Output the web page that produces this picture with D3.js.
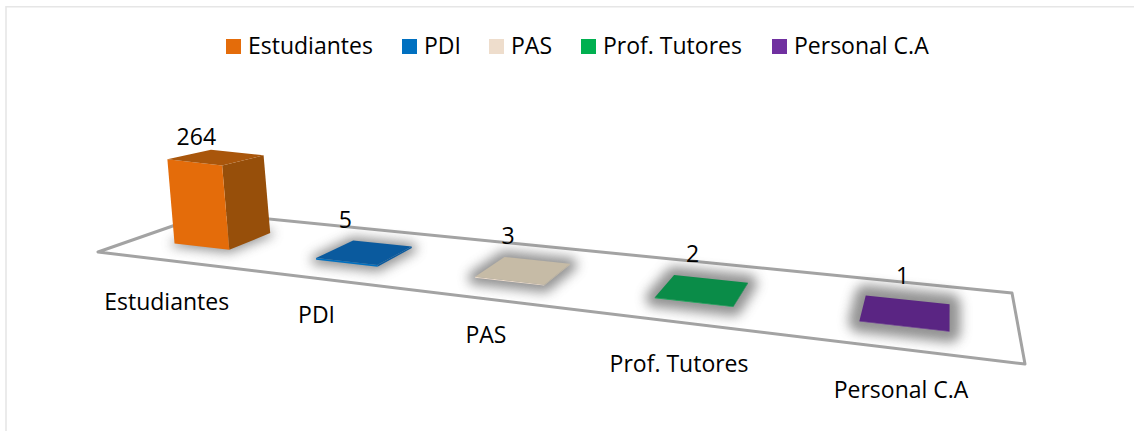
<!DOCTYPE html>
<html>
<head>
<meta charset="utf-8">
<script src="https://cdn.jsdelivr.net/npm/d3@7/dist/d3.min.js"></script>
<style>
  html, body { margin: 0; padding: 0; background: #fff; }
  text { font-family: "Open Sans", Lato, sans-serif; fill: #000; }
</style>
</head>
<body>
<svg id="chart" width="1134" height="431"></svg>
<script>
const categories = ["Estudiantes", "PDI", "PAS", "Prof. Tutores", "Personal C.A"];
const values = [264, 5, 3, 2, 1];
const legendColors = ["#e46c0a", "#0070c0", "#eeddcc", "#00b050", "#7030a0"];
const topColors = ["#a9560b", "#0a5a9e", "#c6bba6", "#0a8c48", "#5a2583"];
const sideColors = ["#974f0a", "#0a5a9e", "#c6bba6", "#0a8c48", "#5a2583"];

// Layout nudges for the labels, in pixels
const valueDx = [-41, -37, -29, -18.5, -5];
const valueDy = [-8, -15, -16.5, -16.5, -16];
const categoryDy = [50, 45, 44, 50, 49];
const legendX = [226, 402, 489, 581, 772];
const shadowSpread = [6, 10, 14, 18, 22];

const svg = d3.select("#chart");

// Frame: only the top and left rules are visible
svg.append("path").attr("d", "M6,431V6.8H1134").attr("fill", "none").attr("stroke", "#e6e6e6").attr("stroke-width", 1.6);

const defs = svg.append("defs");
defs.append("filter").attr("id", "soft").attr("x", "-80%").attr("y", "-150%").attr("width", "260%").attr("height", "400%")
  .append("feGaussianBlur").attr("stdDeviation", 6);

// Floor plane corners on screen: near-left, near-right, far-right, far-left
const floor = [[98, 252], [1025, 364], [1012, 293], [210, 213]];

// Perspective map from the unit square to the floor quadrilateral
function squareToQuad(q) {
  const [[x0, y0], [x1, y1], [x2, y2], [x3, y3]] = q;
  const sx = x0 - x1 + x2 - x3, sy = y0 - y1 + y2 - y3;
  const dx1 = x1 - x2, dx2 = x3 - x2, dy1 = y1 - y2, dy2 = y3 - y2;
  const den = dx1 * dy2 - dx2 * dy1;
  const g = (sx * dy2 - dx2 * sy) / den, h = (dx1 * sy - sx * dy1) / den;
  const a = x1 - x0 + g * x1, b = x3 - x0 + h * x3, c = x0;
  const d = y1 - y0 + g * y1, e = y3 - y0 + h * y3, f = y0;
  return (u, v) => {
    const w = g * u + h * v + 1;
    return [(a * u + b * v + c) / w, (d * u + e * v + f) / w];
  };
}
const project = squareToQuad(floor);

// Scales: categories run along the floor, values rise from it
const xBand = d3.scaleBand().domain(categories).range([0, 1]).paddingInner(0.6).paddingOuter(0.3);
const depth = d3.scaleLinear().domain([0, 1]).range([0.3, 0.7]);
const rise = d3.scaleLinear().domain([0, 264]).range([0, 81]);
const foreshorten = d3.scaleLinear().domain([0, 1]).range([1.04, 0.96]);

// Base of a column on the floor, near edge first
function footprint(cat) {
  const u0 = xBand(cat), u1 = u0 + xBand.bandwidth();
  return [project(u0, depth(0)), project(u1, depth(0)), project(u1, depth(1)), project(u0, depth(1))];
}
// Raise a base corner to the column top; corners 2 and 3 are on the far side
const lift = (p, val, k) => {
  const dy = rise(val) * foreshorten(k >= 2 ? 1 : 0);
  return [p[0] - 0.085 * dy, p[1] - dy];
};
const poly = pts => "M" + pts.map(p => p.join(",")).join("L") + "Z";

const data = categories.map((c, i) => ({ c, v: values[i], i, base: footprint(c) }));

// Floor
svg.append("path").attr("d", poly(floor)).attr("fill", "#fff").attr("stroke", "#a3a3a3")
  .attr("stroke-width", 3).attr("stroke-linejoin", "round");

// Soft shadows under each column
svg.append("g").selectAll("path").data(data).join("path")
  .attr("d", d => poly(d.base))
  .attr("fill", "#6e6e6e").attr("stroke", "#6e6e6e").attr("stroke-width", d => shadowSpread[d.i])
  .attr("stroke-linejoin", "round").attr("opacity", 0.75).attr("filter", "url(#soft)");

// Column faces
const col = svg.append("g").selectAll("g").data(data).join("g");
col.append("path").attr("d", d => {
    const [, b, c] = d.base;
    return poly([b, c, lift(c, d.v, 2), lift(b, d.v, 1)]);
  }).attr("fill", d => sideColors[d.i]);
col.append("path").attr("d", d => {
    const [a, b] = d.base;
    return poly([a, b, lift(b, d.v, 1), lift(a, d.v, 0)]);
  }).attr("fill", d => legendColors[d.i]);
col.append("path").attr("d", d => poly(d.base.map((p, k) => lift(p, d.v, k))))
  .attr("fill", d => topColors[d.i]);

// Value labels sit near the middle of each column's far edge
const topCentre = d => {
  const c = lift(d.base[2], d.v, 2), e = lift(d.base[3], d.v, 3);
  return [(c[0] + e[0]) / 2, (c[1] + e[1]) / 2];
};
svg.append("g").selectAll("text").data(data).join("text")
  .attr("text-anchor", "middle").attr("font-size", 23)
  .attr("x", d => topCentre(d)[0] + valueDx[d.i])
  .attr("y", d => topCentre(d)[1] + valueDy[d.i])
  .text(d => d.v);

// Category labels below the near edge of the floor
svg.append("g").selectAll("text").data(data).join("text")
  .attr("text-anchor", "middle").attr("font-size", 23)
  .attr("x", d => project(xBand(d.c) + xBand.bandwidth() / 2, 0)[0])
  .attr("y", d => project(xBand(d.c) + xBand.bandwidth() / 2, 0)[1] + categoryDy[d.i])
  .text(d => d.c);

// Legend
const legend = svg.append("g").selectAll("g").data(data).join("g")
  .attr("transform", d => `translate(${legendX[d.i]},39)`);
legend.append("rect").attr("width", 15).attr("height", 15).attr("fill", d => legendColors[d.i]);
legend.append("text").attr("x", 22).attr("y", 14.5).attr("font-size", 23).text(d => d.c);
</script>
</body>
</html>
